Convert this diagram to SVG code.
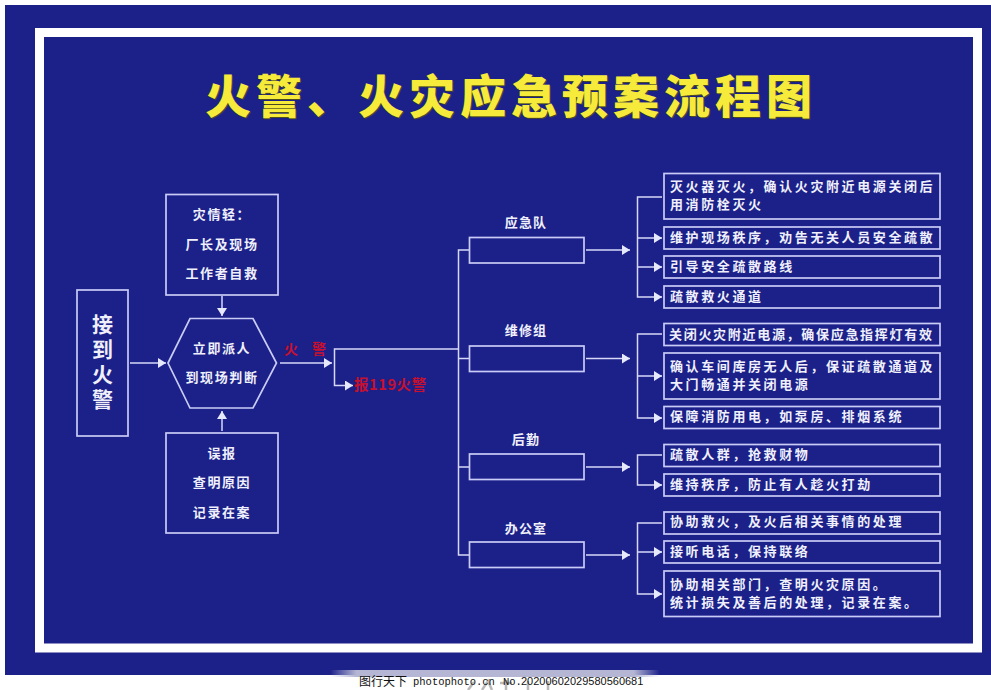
<svg xmlns="http://www.w3.org/2000/svg" width="991" height="690" viewBox="0 0 991 690">
<defs>
<marker id="a" markerUnits="userSpaceOnUse" markerWidth="9" markerHeight="10" refX="8" refY="5" orient="auto"><path d="M0 0L8 5L0 10z" fill="#e6e8fb"/></marker>
<linearGradient id="f" x1="0" y1="0" x2="1" y2="0"><stop offset="0" stop-color="#b4b6d4" stop-opacity="0"/><stop offset=".08" stop-color="#b4b6d4"/><stop offset=".92" stop-color="#b4b6d4"/><stop offset="1" stop-color="#b4b6d4" stop-opacity="0"/></linearGradient>
</defs>
<style>
.b{fill:none;stroke:#c9ccf6;stroke-width:1.7}
.c{fill:none;stroke:#d6d8f8;stroke-width:1.5}
text{font-family:"Noto Sans CJK SC","Liberation Sans",sans-serif;font-weight:700;fill:#eff0fb}
.r{font-size:13px;letter-spacing:2.6px}
.n{font-size:13px;letter-spacing:1.7px}
.m{font-size:13px;letter-spacing:1.6px;text-anchor:middle}
.g{font-size:13px;letter-spacing:1.2px;text-anchor:middle}
.red{fill:#c8102e}
.w{font-weight:400;fill:#111}
.x{fill:none;stroke:#b9b9b9;stroke-width:2.500}
</style>
<rect width="991" height="690" fill="#fff"/>
<rect x="5" y="5" width="986" height="670" fill="#1c2089"/>
<rect x="39.500" y="32.500" width="938" height="615.500" fill="none" stroke="#fff" stroke-width="9"/>
<rect x="330" y="670" width="330" height="7" fill="url(#f)"/>
<path class="x" d="M468 690L474 682M492 690L488 681L482 690M500 683H512M506 680V690M528 681V690M548 681V690"/>
<g id="title"><text x="205" y="113" font-size="46" letter-spacing="5" style="fill:#4a4a20;font-weight:900" transform="translate(1 1)">火警、火灾应急预案流程图</text><text x="205" y="113" font-size="46" letter-spacing="5" style="fill:#f6ea3a;font-weight:900">火警、火灾应急预案流程图</text></g>
<g id="connectors">
<path class="c" marker-end="url(#a)" d="M130 363H166"/>
<path class="c" marker-end="url(#a)" d="M280 363H332"/>
<path class="c" marker-end="url(#a)" d="M222 296V316"/>
<path class="c" marker-end="url(#a)" d="M222 431V411"/>
<path class="c" marker-end="url(#a)" d="M458 349H334.500V385.500H353"/>
<path class="c" d="M469 250H458.500V555H469"/>
<path class="c" d="M458.500 358.500H469M458.500 467H469"/>
<path class="c" marker-end="url(#a)" d="M586 250H630"/>
<path class="c" marker-end="url(#a)" d="M586 358.500H630"/>
<path class="c" marker-end="url(#a)" d="M586 467H630"/>
<path class="c" marker-end="url(#a)" d="M586 555H630"/>
<path class="c" marker-end="url(#a)" d="M662 197H637.500V297H662"/>
<path class="c" marker-end="url(#a)" d="M637.500 238H662"/>
<path class="c" marker-end="url(#a)" d="M637.500 267H662"/>
<path class="c" marker-end="url(#a)" d="M662 334H637.500V418H662"/>
<path class="c" marker-end="url(#a)" d="M637.500 376H662"/>
<path class="c" marker-end="url(#a)" d="M662 455H637.500V485H662"/>
<path class="c" marker-end="url(#a)" d="M662 523H637.500V594H662"/>
<path class="c" marker-end="url(#a)" d="M637.500 552H662"/>
</g>
<g id="n-receive"><rect class="b" x="77" y="290" width="51" height="146"/><text x="102.500" y="314" font-size="21" letter-spacing="4" style="writing-mode:vertical-rl">接到火警</text></g>
<g id="n-minor"><rect class="b" x="166" y="194.500" width="112" height="100.500"/><text class="m" x="222" y="219">灾情轻：</text><text class="m" x="222" y="249">厂长及现场</text><text class="m" x="222" y="278">工作者自救</text></g>
<g id="n-dispatch"><path class="b" d="M168 363L190 318.500H253L276.500 363L253 408H190z"/><text class="m" x="222" y="353">立即派人</text><text class="m" x="222" y="382">到现场判断</text></g>
<g id="n-false"><rect class="b" x="166" y="433" width="112" height="100"/><text class="m" x="222" y="458">误报</text><text class="m" x="222" y="487">查明原因</text><text class="m" x="222" y="517">记录在案</text></g>
<g id="n-fire"><text class="red" x="284" y="354" font-size="14">火</text><text class="red" x="312" y="354" font-size="14">警</text></g>
<g id="n-119"><text class="red" x="354" y="390" font-size="14.500" letter-spacing=".6">报119火警</text></g>
<g id="n-team1"><text class="g" x="526" y="227">应急队</text><rect class="b" x="469.500" y="237.500" width="114.500" height="25.500"/></g>
<g id="n-team2"><text class="g" x="526" y="335">维修组</text><rect class="b" x="469.500" y="346" width="114.500" height="25.500"/></g>
<g id="n-team3"><text class="g" x="526" y="444">后勤</text><rect class="b" x="469.500" y="454" width="114.500" height="25.500"/></g>
<g id="n-team4"><text class="g" x="526" y="533">办公室</text><rect class="b" x="469.500" y="542" width="114.500" height="25.500"/></g>
<g id="r1"><rect class="b" x="664" y="173.500" width="276" height="45.500"/><text class="r" x="670" y="191">灭火器灭火，确认火灾附近电源关闭后</text><text class="r" x="670" y="209">用消防栓灭火</text></g>
<g id="r2"><rect class="b" x="664" y="227" width="276" height="22"/><text class="r" x="670" y="242">维护现场秩序，劝告无关人员安全疏散</text></g>
<g id="r3"><rect class="b" x="664" y="256" width="276" height="22"/><text class="r" x="670" y="271">引导安全疏散路线</text></g>
<g id="r4"><rect class="b" x="664" y="286" width="276" height="22"/><text class="r" x="670" y="301">疏散救火通道</text></g>
<g id="r5"><rect class="b" x="664" y="323.500" width="276" height="22"/><text class="n" x="669" y="339">关闭火灾附近电源，确保应急指挥灯有效</text></g>
<g id="r6"><rect class="b" x="664" y="353" width="276" height="46"/><text class="r" x="670" y="371">确认车间库房无人后，保证疏散通道及</text><text class="r" x="670" y="389">大门畅通并关闭电源</text></g>
<g id="r7"><rect class="b" x="664" y="406.500" width="276" height="22"/><text class="r" x="670" y="421">保障消防用电，如泵房、排烟系统</text></g>
<g id="r8"><rect class="b" x="664" y="444.500" width="276" height="22"/><text class="r" x="670" y="459">疏散人群，抢救财物</text></g>
<g id="r9"><rect class="b" x="664" y="474" width="276" height="22"/><text class="r" x="670" y="489">维持秩序，防止有人趁火打劫</text></g>
<g id="r10"><rect class="b" x="664" y="512" width="276" height="22"/><text class="r" x="670" y="526">协助救火，及火后相关事情的处理</text></g>
<g id="r11"><rect class="b" x="664" y="541" width="276" height="22"/><text class="r" x="670" y="556">接听电话，保持联络</text></g>
<g id="r12"><rect class="b" x="664" y="571" width="276" height="45.500"/><text class="r" x="670" y="589">协助相关部门，查明火灾原因。</text><text class="r" x="670" y="607">统计损失及善后的处理，记录在案。</text></g>
<g id="watermark"><text class="w" x="359" y="686" font-size="12">图行天下</text><text class="w" x="413" y="685" font-size="10.500" style="font-family:'Liberation Mono',monospace">photophoto.cn</text><text class="w" x="503" y="685" font-size="10.500" style="font-family:'Liberation Mono',monospace">No.</text><text class="w" x="521" y="685" font-size="11" style="font-family:'Liberation Sans',sans-serif">20200602029580560681</text></g>
</svg>
